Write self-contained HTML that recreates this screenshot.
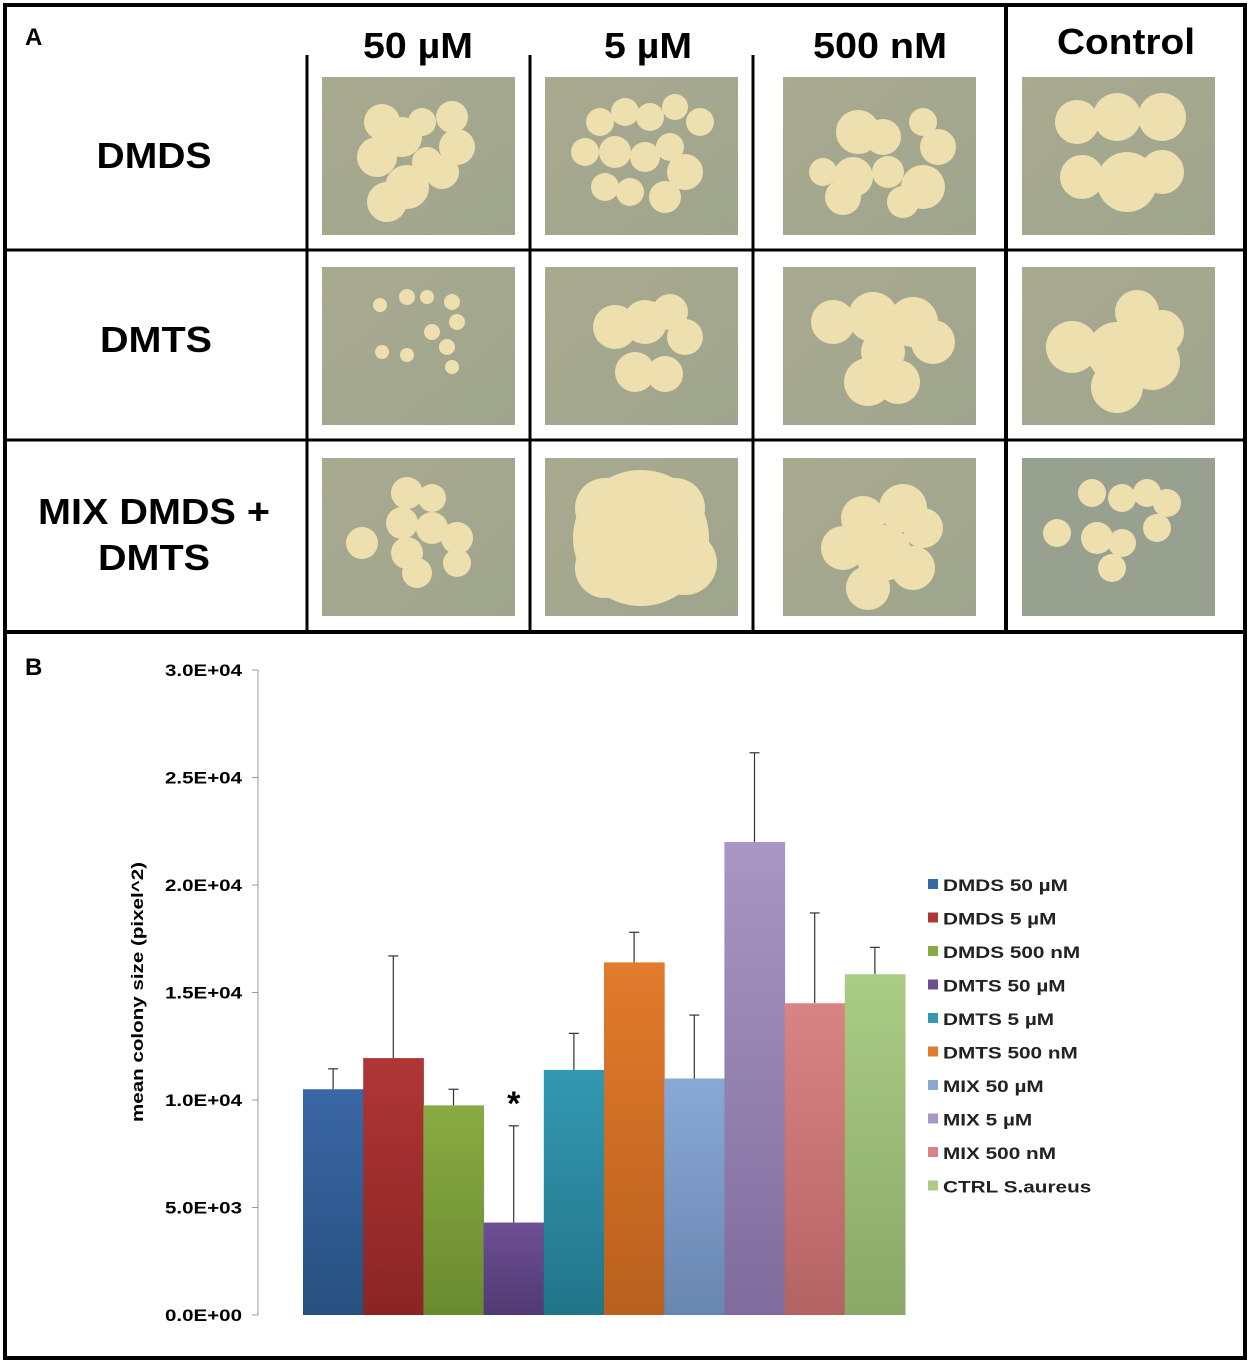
<!DOCTYPE html>
<html><head><meta charset="utf-8"><style>
html,body{margin:0;padding:0;background:#fff;}
svg{display:block;font-family:"Liberation Sans",Arial,sans-serif;}
</style></head><body>
<svg id="fig" width="1250" height="1361" viewBox="0 0 1250 1361">
<defs>
<linearGradient id="agar" x1="0" y1="0" x2="1" y2="1"><stop offset="0" stop-color="#a9aa90"/><stop offset="1" stop-color="#9ea58c"/></linearGradient>
</defs>
<g>
<rect x="5" y="5" width="1240" height="627" fill="#fff" stroke="#000" stroke-width="4"/>
<text x="25" y="45" font-size="24" font-weight="bold">A</text>
<line x1="307" y1="55" x2="307" y2="632" stroke="#000" stroke-width="3"/>
<line x1="530" y1="55" x2="530" y2="632" stroke="#000" stroke-width="3"/>
<line x1="753" y1="55" x2="753" y2="632" stroke="#000" stroke-width="3"/>
<line x1="1006" y1="5" x2="1006" y2="632" stroke="#000" stroke-width="4"/>
<line x1="5" y1="250" x2="1245" y2="250" stroke="#000" stroke-width="3"/>
<line x1="5" y1="440" x2="1245" y2="440" stroke="#000" stroke-width="3"/>
<g font-size="36" font-weight="bold" text-anchor="middle" lengthAdjust="spacingAndGlyphs">
<text x="418" y="58" textLength="110" lengthAdjust="spacingAndGlyphs">50 µM</text>
<text x="648" y="58" textLength="88" lengthAdjust="spacingAndGlyphs">5 µM</text>
<text x="880" y="58" textLength="134" lengthAdjust="spacingAndGlyphs">500 nM</text>
<text x="1126" y="54" textLength="138" lengthAdjust="spacingAndGlyphs">Control</text>
<text x="154" y="168" textLength="115" lengthAdjust="spacingAndGlyphs">DMDS</text>
<text x="156" y="352" textLength="112" lengthAdjust="spacingAndGlyphs">DMTS</text>
<text x="154" y="524" textLength="232" lengthAdjust="spacingAndGlyphs">MIX DMDS +</text>
<text x="154" y="570" textLength="112" lengthAdjust="spacingAndGlyphs">DMTS</text>
</g>
<g id="plates"></g>
</g>
<g>
<rect x="5" y="632" width="1240" height="726" fill="#fff" stroke="#000" stroke-width="4"/>
<text x="25" y="675" font-size="24" font-weight="bold">B</text>
<text transform="translate(143,992) rotate(-90)" text-anchor="middle" font-size="17" font-weight="bold" textLength="260" lengthAdjust="spacingAndGlyphs">mean colony size (pixel^2)</text>
<g id="chart"></g>
</g>
</svg>
<script>
const NS='http://www.w3.org/2000/svg';
// ---- Panel A plates ----
const plateCols=[322,545,783,1022];
const plateRows=[77,267,458];
const colonies=[
 [[[60,45,18],[80,60,20],[55,80,20],[100,45,14],[130,40,16],[135,70,18],[120,95,17],[85,110,22],[65,125,20],[105,85,15]],
  [[55,45,14],[80,35,14],[105,40,14],[130,30,13],[155,45,14],[40,75,14],[70,75,16],[100,80,15],[125,70,14],[140,95,18],[60,110,14],[85,115,14],[120,120,16]],
  [[75,55,22],[100,60,18],[140,45,14],[155,70,18],[40,95,14],[70,100,20],[105,95,16],[140,110,22],[60,120,18],[120,125,16]],
  [[55,45,22],[95,40,24],[140,40,24],[60,100,22],[105,105,30],[140,95,22]]],
 [[[58,38,7],[85,30,8],[105,30,7],[130,35,8],[135,55,8],[110,65,8],[60,85,7],[85,88,7],[125,80,8],[130,100,7]],
  [[70,60,22],[100,55,22],[125,45,18],[140,70,18],[90,105,20],[120,107,18]],
  [[50,55,22],[90,50,25],[130,55,25],[150,75,22],[100,85,22],[85,115,24],[115,115,22]],
  [[115,45,22],[140,65,22],[50,80,26],[95,85,30],[130,95,28],[95,120,26]]],
 [[[85,35,16],[110,40,14],[80,65,16],[110,70,16],[40,85,16],[85,95,16],[135,80,16],[95,115,15],[135,105,14]],
  [[96,80,68],[60,50,30],[130,50,30],[60,110,30],[140,105,32]],
  [[80,60,22],[120,50,24],[140,70,20],[60,90,22],[100,95,28],[130,110,22],[85,130,22]],
  [[70,35,14],[100,40,14],[125,35,14],[145,45,14],[35,75,14],[75,80,16],[100,85,14],[135,70,14],[90,110,14]]]
];
plateRows.forEach((py,ri)=>{
  plateCols.forEach((px,ci)=>{
    const g=document.createElementNS(NS,'g');
    
    
    const r=document.createElementNS(NS,'rect');
    r.setAttribute('x',px);r.setAttribute('y',py);r.setAttribute('width',193);r.setAttribute('height',158);
    r.setAttribute('fill',ci===3&&ri===2?'#98a08f':'url(#agar)');
    
    
    g.appendChild(r);
    colonies[ri][ci].forEach(c=>{
      const e=document.createElementNS(NS,'circle');
      e.setAttribute('cx',px+c[0]);e.setAttribute('cy',py+c[1]);e.setAttribute('r',c[2]);
      e.setAttribute('fill','#eedfae');
      
      
      g.appendChild(e);
    });
    document.getElementById('plates').appendChild(g);
  });
});
// ---- Panel B chart data ----
const categories=['DMDS 50 µM','DMDS 5 µM','DMDS 500 nM','DMTS 50 µM','DMTS 5 µM','DMTS 500 nM','MIX 50 µM','MIX 5 µM','MIX 500 nM','CTRL S.aureus'];
const meanValues=[10500,11950,9750,4300,11400,16400,11000,22000,14500,15850];
const errorTops=[11450,16700,10500,8800,13100,17800,13950,26150,18700,17100];
const yTicks=[0,5000,10000,15000,20000,25000,30000];
const yTickLabels=['0.0E+00','5.0E+03','1.0E+04','1.5E+04','2.0E+04','2.5E+04','3.0E+04'];
const barColors=[['#3a67a6','#28507f'],['#b03636','#8a2424'],['#89ab43','#6a8a30'],['#6d4f94','#513a72'],['#3398b2','#227589'],['#e27b2c','#b8601e'],['#8aa8d4','#6786b0'],['#a897c4','#7f6c9d'],['#d98484','#b46363'],['#aacc86','#8aa868']];
const chart=document.getElementById('chart');
const y0=1315,yTop=670,yMax=30000;
const yScale=v=>y0-(v/yMax)*(y0-yTop);
const xStart=303,plotW=602;
const bw=plotW/categories.length;
const xScale=i=>xStart+i*bw;
function mk(tag,attrs){const e=document.createElementNS(NS,tag);for(const k in attrs)e.setAttribute(k,attrs[k]);chart.appendChild(e);return e;}
const defs=document.querySelector('defs');
barColors.forEach((c,i)=>{
  const lg=document.createElementNS(NS,'linearGradient');
  lg.setAttribute('id','bg'+i);lg.setAttribute('x1',0);lg.setAttribute('y1',0);lg.setAttribute('x2',0);lg.setAttribute('y2',1);
  lg.innerHTML='<stop offset="0" stop-color="'+c[0]+'"/><stop offset="1" stop-color="'+c[1]+'"/>';
  defs.appendChild(lg);
});
let ax=mk('line',{x1:258,y1:yTop,x2:258,y2:y0,stroke:'#999','stroke-width':1});


yTicks.forEach((t,i)=>{
  const y=yScale(t);
  const tk=mk('line',{x1:252,y1:y,x2:258,y2:y,stroke:'#999','stroke-width':1});
  
  
  const tl=mk('text',{x:165,y:y+6,'font-size':17,'font-weight':'bold',textLength:77,lengthAdjust:'spacingAndGlyphs'});
  tl.textContent=yTickLabels[i];
  
  
});
categories.forEach((c,i)=>{
  const x=xScale(i),top=yScale(meanValues[i]),et=yScale(errorTops[i]),cx=x+bw/2;
  const el=mk('line',{x1:cx,y1:et,x2:cx,y2:top,stroke:'#333','stroke-width':1.2});
  
  
  const ec=mk('line',{x1:cx-5,y1:et,x2:cx+5,y2:et,stroke:'#333','stroke-width':1.2});
  
  
  const b=mk('rect',{x:x,y:top,width:bw+0.5,height:y0-top,fill:'url(#bg'+i+')'});
  
  
  const ly=885+i*33.5;
  const sw=mk('rect',{x:928,y:ly-6,width:10,height:10,fill:barColors[i][0]});
  
  
  const lt=mk('text',{x:943,y:ly+6,'font-size':17,'font-weight':'bold',fill:'#222'});
  lt.textContent=c;
  
  
  chart.appendChild(lt);
  const w=lt.getComputedTextLength();
  lt.setAttribute('textLength',(w*1.22).toFixed(1));
  lt.setAttribute('lengthAdjust','spacingAndGlyphs');
});
const star=mk('text',{x:xScale(3)+bw/2,y:1115,'text-anchor':'middle','font-size':34,'font-weight':'bold'});
star.textContent='*';


</script>
</body></html>
